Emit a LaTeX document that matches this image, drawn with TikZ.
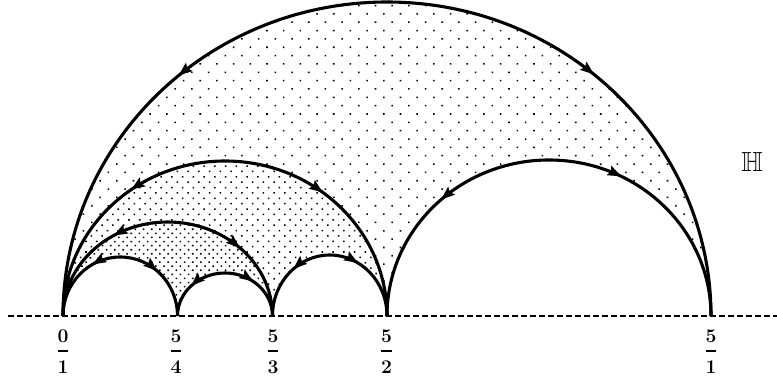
\documentclass[tikz,border=0pt]{standalone}
\usepackage{amsmath,amssymb}
\usetikzlibrary{decorations.markings,arrows.meta,patterns.meta}
\tikzset{
  geotip/.tip={Stealth[length=13.5pt,width=10pt,inset=2pt]},
  geo/.style 2 args={line width=3.1pt, postaction={decorate}, decoration={markings,
    mark=at position #1 with {\arrowreversed{geotip}},
    mark=at position #2 with {\arrow{geotip}}}},
  sparse/.style={pattern={Dots[radius=1.1pt,distance=11.8pt,angle=45]},pattern color=black},
  middle/.style={pattern={Dots[radius=1.1pt,distance=7.6pt,angle=45]},pattern color=black},
  inner/.style={pattern={Dots[radius=1.1pt,distance=5.8pt,angle=45]},pattern color=black},
  baseln/.style={line width=1.3pt, dash pattern=on 5.5pt off 3.5pt},
  lab/.style={font=\fontsize{17.28}{20}\selectfont, inner sep=0pt, anchor=base},
}
\newcommand\myfr[2]{\scalebox{1.12}{$\displaystyle\genfrac{}{}{2pt}{0}{\mathbf{#1}}{\rule{0pt}{13pt}\mathbf{#2}}$}}
\begin{document}
\begin{tikzpicture}[x=1pt,y=1pt]
\useasboundingbox (0,-65) rectangle (777,316);
\coordinate (a) at (63,0);
\coordinate (b) at (177.5,0);
\coordinate (c) at (272.5,0);
\coordinate (d) at (387,0);
\coordinate (e) at (711,0);
\coordinate (L) at (8,0);
\coordinate (R) at (777,0);
% shading
\path[sparse] (e) arc[start angle=0,end angle=180,x radius=324,y radius=314] -- cycle;
\fill[white] (d) arc[start angle=0,end angle=180,x radius=162,y radius=155] -- cycle;
\path[middle] (d) arc[start angle=0,end angle=180,x radius=162,y radius=155] -- cycle;
\fill[white] (e) arc[start angle=0,end angle=180,x radius=162,y radius=156] -- cycle;
\fill[white] (c) arc[start angle=0,end angle=180,x radius=104.75,y radius=94] -- cycle;
\path[inner] (c) arc[start angle=0,end angle=180,x radius=104.75,y radius=94] -- cycle;
\fill[white] (b) arc[start angle=0,end angle=180,x radius=57.25,y radius=59] -- cycle;
\fill[white] (c) arc[start angle=0,end angle=180,x radius=47.5,y radius=43] -- cycle;
\fill[white] (d) arc[start angle=0,end angle=180,x radius=57.25,y radius=61] -- cycle;
% boundary line
\draw[baseln] (L) -- (R);
% geodesics
\draw[geo={0.277}{0.725}] (e) arc[start angle=0,end angle=180,x radius=324,y radius=314];
\draw[geo={0.29}{0.70}] (d) arc[start angle=0,end angle=180,x radius=162,y radius=155];
\draw[geo={0.35}{0.735}] (e) arc[start angle=0,end angle=180,x radius=162,y radius=156];
\draw[geo={0.25}{0.68}] (c) arc[start angle=0,end angle=180,x radius=104.75,y radius=94];
\draw[geo={0.28}{0.66}] (b) arc[start angle=0,end angle=180,x radius=57.25,y radius=59];
\draw[geo={0.29}{0.76}] (c) arc[start angle=0,end angle=180,x radius=47.5,y radius=43];
\draw[geo={0.34}{0.715}] (d) arc[start angle=0,end angle=180,x radius=57.25,y radius=61];
% labels
\node[lab] (la) at (63,-40) {\myfr{0}{1}};
\node[lab] (lb) at (176,-40) {\myfr{5}{4}};
\node[lab] (lc) at (273,-40) {\myfr{5}{3}};
\node[lab] (ld) at (386.5,-40) {\myfr{5}{2}};
\node[lab] (le) at (711,-40) {\myfr{5}{1}};
\node[font=\fontsize{20.74}{24}\selectfont, inner sep=0pt] (H) at (752,154) {\scalebox{1.33}{$\mathbb{H}$}};
\end{tikzpicture}
\end{document}
